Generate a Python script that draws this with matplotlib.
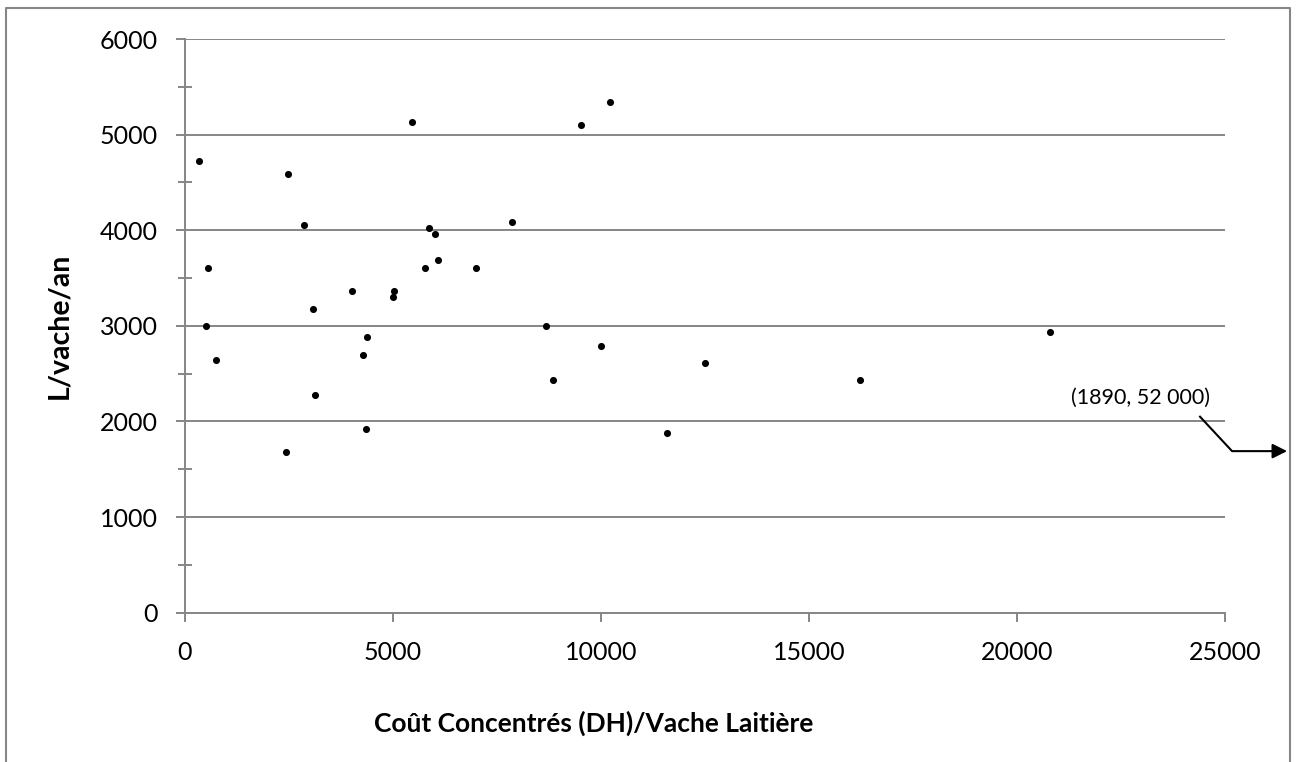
import matplotlib
matplotlib.use("Agg")
import matplotlib.pyplot as plt
from matplotlib.lines import Line2D

plt.rcParams['font.family'] = ['Lato', 'DejaVu Sans']

# concentrate cost (DH) per dairy cow vs milk yield (L/cow/year)
cout = [350, 2470, 2860, 560, 5780, 7000, 5870, 6000, 6080, 7870,
        4010, 5020, 5000, 3070, 505, 8670, 4380, 4290, 750, 8850,
        3120, 4350, 2430, 5470, 9520, 10220, 9990, 12500, 16230, 11580,
        20800]
lait = [4725, 4590, 4050, 3600, 3600, 3600, 4020, 3960, 3690, 4085,
        3360, 3360, 3300, 3180, 3000, 3000, 2880, 2700, 2640, 2430,
        2280, 1920, 1680, 5130, 5100, 5340, 2790, 2610, 2430, 1875,
        2940]

outlier_label = "(1890, 52 000)"
xlabel = "Coût Concentrés (DH)/Vache Laitière"
ylabel = "L/vache/an"
grey = "#868686"

fig = plt.figure(figsize=(12.96, 7.62), dpi=100)
ax = fig.add_axes([0.1427, 0.1959, 0.8025, 0.7529])

ax.scatter(cout, lait, s=26, color="black", zorder=3, linewidths=0)

ax.set_xlim(0, 25000)
ax.set_ylim(0, 6000)
ax.set_xticks(range(0, 25001, 5000))
ax.set_yticks(range(0, 6001, 1000))
ax.set_yticks(range(500, 6000, 1000), minor=True)

ax.grid(axis="y", which="major", color=grey, linewidth=1.4)
ax.set_axisbelow(True)
for s in ["top", "right"]:
    ax.spines[s].set_visible(False)
for s in ["left", "bottom"]:
    ax.spines[s].set_color(grey)
    ax.spines[s].set_linewidth(1.4)

ax.tick_params(axis="y", which="major", direction="out", length=6.5, width=1.4,
               color=grey, labelsize=18, pad=13)
ax.tick_params(axis="y", which="minor", direction="inout", length=10, width=1.4,
               color=grey)
ax.tick_params(axis="x", which="major", direction="out", length=6.5, width=1.4,
               color=grey, labelsize=18, pad=14)

ax.set_xlabel(xlabel, fontsize=19, fontweight="bold")
ax.xaxis.set_label_coords(0.393, -0.17)
ax.set_ylabel(ylabel, fontsize=20.5, fontweight="bold")
ax.yaxis.set_label_coords(-0.108, 0.5)

# off-scale point marker
ax.text(22960, 2250, outlier_label, fontsize=15.5, ha="center", va="center")
ax.plot([24400, 25170, 26300], [2050, 1690, 1690], color="black",
        linewidth=1.5, clip_on=False)
ax.annotate("", xy=(26560, 1690), xytext=(26150, 1690),
            arrowprops=dict(arrowstyle="-|>", color="black", lw=1.5,
                            mutation_scale=22),
            annotation_clip=False)

# chart frame
fig.add_artist(Line2D([0.0046, 0.0046, 0.9954, 0.9954], [0.0, 0.99, 0.99, 0.0],
                      color=grey, linewidth=1.5))

fig.savefig("out.png", dpi=100)
